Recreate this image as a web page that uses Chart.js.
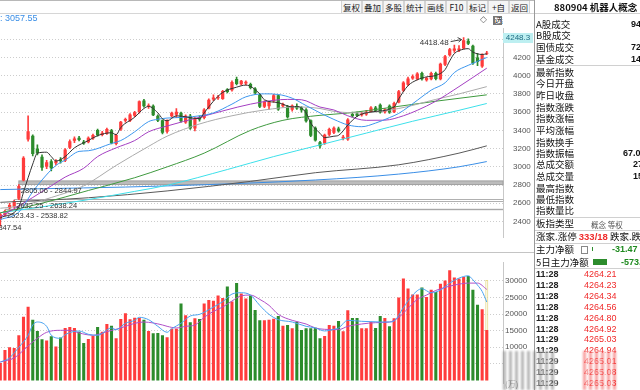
<!DOCTYPE html>
<html lang="zh-CN">
<head>
<meta charset="utf-8">
<title>880904 机器人概念</title>
<script src="https://cdn.jsdelivr.net/npm/chart.js@4.4.1/dist/chart.umd.min.js"></script>
<style>
  html, body { margin: 0; padding: 0; }
  body {
    width: 640px; height: 390px; overflow: hidden; position: relative; background: #fff;
    font-family: "Liberation Sans", "Noto Sans CJK SC", sans-serif; color: #222;
  }
  .abs { position: absolute; white-space: nowrap; }
  #toolbar { position: absolute; left: 0; top: 0; width: 534px; height: 12px; border-top: 1px solid #b8b8b8; border-bottom: 1px solid #d6d6d6; }
  .btn { position: absolute; top: 0; width: 19px; height: 12px; border-left: 1px solid #d4d4d4; border-right: 1px solid #d4d4d4;
         font: 8.5px "Noto Sans CJK SC", sans-serif; line-height: 12px; text-align: center; color: #222; background: #f5f5f5; }
  #priceWrap { position: absolute; left: -2px; top: 14px; }
  #volWrap { position: absolute; left: -2px; top: 256px; }
  #sep { position: absolute; left: 0; top: 252px; width: 534px; height: 1px; background: #c4c4c4; }
  #panel { position: absolute; left: 534px; top: 0; width: 106px; height: 390px; border-left: 1px solid #9a9a9a; overflow: hidden; background: #fff; }
  .pl { position: absolute; left: 1px; font: 9.5px "Noto Sans CJK SC", sans-serif; line-height: 12px; white-space: nowrap; color: #111; }
  .pv { position: absolute; font: bold 9px "Liberation Sans", sans-serif; line-height: 12px; color: #111; white-space: nowrap; }
  .hl { position: absolute; left: 0; width: 106px; height: 1px; background: #d0d0d0; }
  .tt { position: absolute; left: 1px; font: bold 9px "Liberation Sans", sans-serif; line-height: 11px; color: #222; }
  .tp { position: absolute; left: 49px; font: 9px "Liberation Sans", sans-serif; line-height: 11px; color: #f02b2b; }
  .wm { position: absolute; top: 351px; height: 39px; filter: blur(0.8px); }
</style>
</head>
<body>

<div id="toolbar">
  <div class="btn" style="left:341px">复权</div>
  <div class="btn" style="left:362px">叠加</div>
  <div class="btn" style="left:383px">多股</div>
  <div class="btn" style="left:404px">统计</div>
  <div class="btn" style="left:425px">画线</div>
  <div class="btn" style="left:446px">F10</div>
  <div class="btn" style="left:467px">标记</div>
  <div class="btn" style="left:488px">+自选</div>
  <div class="btn" style="left:509px">返回</div>
</div>

<div id="priceWrap"><canvas id="priceChart" width="536" height="238"></canvas></div>
<div id="sep"></div>
<div id="volWrap"><canvas id="volumeChart" width="536" height="134"></canvas></div>

<div class="abs" style="left:0;top:13px;font:9px 'Liberation Sans';color:#3a8ee6">: 3057.55</div>
<div class="abs" style="left:480px;top:14px;font:9px 'DejaVu Sans';color:#666">◇</div>
<div class="abs" style="left:493px;top:16px;width:6px;height:7px;border:1px solid #777;border-left-width:2px"></div>
<div class="abs" style="left:503px;top:33px;width:30px;height:10px;background:#bdeff1;font:8px 'Liberation Sans';line-height:10px;text-align:center;color:#1d6b82">4248.3</div>
<div class="abs" style="left:505px;top:378px;font:8px 'Noto Sans CJK SC';color:#666">(万)</div>

<div id="panel">
  <div class="abs" style="left:19px;top:1px;font:bold 9.5px 'Noto Sans CJK SC';line-height:12px;color:#111">880904 机器人概念</div>
  <div class="hl" style="top:13px"></div>
  <div class="pl" style="top:18px">A股成交</div><div class="pv" style="left:96px;top:18px">94</div>
  <div class="pl" style="top:29px">B股成交</div>
  <div class="pl" style="top:41px">国债成交</div><div class="pv" style="left:96px;top:41px">72</div>
  <div class="pl" style="top:53px">基金成交</div><div class="pv" style="left:96px;top:53px">14</div>
  <div class="hl" style="top:65px"></div>
  <div class="pl" style="top:66px">最新指数</div>
  <div class="pl" style="top:77px">今日开盘</div>
  <div class="pl" style="top:89px">昨日收盘</div>
  <div class="pl" style="top:101px">指数涨跌</div>
  <div class="pl" style="top:112px">指数涨幅</div>
  <div class="pl" style="top:124px">平均涨幅</div>
  <div class="pl" style="top:136px">指数换手</div>
  <div class="pl" style="top:147px">指数振幅</div><div class="pv" style="left:88px;top:147px">67.0</div>
  <div class="pl" style="top:158px">总成交额</div><div class="pv" style="left:98px;top:158px">27</div>
  <div class="pl" style="top:170px">总成交量</div><div class="pv" style="left:98px;top:170px">15</div>
  <div class="pl" style="top:182px">最高指数</div>
  <div class="pl" style="top:193px">最低指数</div>
  <div class="pl" style="top:204px">指数量比</div>
  <div class="hl" style="top:217px"></div>
  <div class="pl" style="top:217px">板指类型</div>
  <div class="abs" style="left:56px;top:219px;font:7.5px 'Noto Sans CJK SC';color:#555">概念 等权</div>
  <div class="hl" style="top:230px"></div>
  <div class="pl" style="top:230px">涨家.涨停 <span style="color:#f02b2b;font-family:'Liberation Sans';font-weight:bold">333/18</span> 跌家.跌停</div>
  <div class="hl" style="top:243px"></div>
  <div class="pl" style="top:243px">主力净额</div>
  <div class="abs" style="left:46px;top:246px;width:5px;height:6px;border:1px solid #888"></div>
  <div class="abs" style="left:57px;top:247px;width:1px;height:4px;background:#2c8c2c"></div>
  <div class="pv" style="left:77px;top:243px;color:#1f8a1f">-31.47</div>
  <div class="pl" style="top:256px">5日主力净额</div>
  <div class="abs" style="left:58px;top:259px;width:14px;height:6px;background:#2c8c2c"></div>
  <div class="pv" style="left:86px;top:256px;color:#1f8a1f">-573.5</div>
  <div class="hl" style="top:268px"></div>
  <div id="ticks"></div>
</div>

<div class="wm" style="left:503px;width:54px;background:repeating-linear-gradient(90deg, rgba(120,120,120,0.55) 0 3px, rgba(255,255,255,0.55) 3px 6px)"></div>
<div class="wm" style="left:583px;width:33px;background:repeating-linear-gradient(90deg, rgba(240,60,60,0.5) 0 3px, rgba(255,255,255,0.6) 3px 6px)"></div>

<script>
// ---- candles ----
const opens  = [2420,2470,2545,2560,2650,2850,3300,3340,3200,3110,3000,3060,3040,3080,3065,3210,3285,3320,3275,3270,
                3310,3405,3350,3362,3400,3250,3410,3505,3505,3560,3600,3727,3660,3670,3560,3510,3385,3555,3570,3592,
                3485,3560,3420,3545,3535,3640,3738,3752,3745,3850,3840,3965,3905,3915,3910,3860,3790,3660,3665,3720,
                3785,3665,3665,3625,3660,3650,3630,3510,3430,3270,3256,3352,3374,3420,3310,3300,3580,3585,3565,3575,
                3600,3650,3680,3600,3670,3600,3705,3835,3900,3970,3960,4030,3950,3960,4030,3960,4120,4225,4275,4280,
                4300,4385,4330,4200,4100,4240];
const highs  = [2495,2523.43,2600,2632.25,2805.06,3112,3560,3350,3240,3130,3070,3080,3080,3100,3200,3295,3330,3335,3290,3330,
                3360,3415,3390,3425,3410,3360,3500,3535,3585,3610,3725,3740,3690,3680,3570,3515,3515,3600,3640,3600,
                3570,3575,3540,3560,3640,3745,3790,3785,3840,3860,3945,3985,3950,3945,3920,3870,3800,3725,3720,3795,
                3790,3700,3675,3680,3690,3660,3640,3515,3440,3280,3360,3425,3440,3435,3345,3530,3600,3600,3600,3620,
                3660,3665,3690,3640,3680,3710,3840,3935,3985,4010,4035,4040,3985,4040,4040,4140,4225,4300,4335,4330,
                4418.48,4405,4335,4245,4240,4268];
const lows   = [2347.54,2460,2538.82,2550,2638.24,2844.97,3280,3120,3130,2960,2980,2955,3020,3040,3055,3200,3265,3285,3245,3262,
                3300,3335,3340,3355,3250,3240,3400,3490,3495,3550,3590,3655,3640,3560,3495,3360,3370,3545,3540,3490,
                3475,3410,3395,3500,3525,3635,3725,3740,3740,3810,3830,3900,3895,3900,3855,3795,3650,3650,3630,3710,
                3620,3655,3535,3610,3630,3600,3490,3330,3280,3205,3245,3340,3365,3380,3295,3290,3545,3550,3555,3565,
                3595,3605,3590,3590,3585,3595,3700,3825,3890,3960,3955,3950,3940,3955,3955,3955,4110,4215,4255,4265,
                4295,4340,4125,4110,4090,4230];
const closes = [2480,2515,2580,2625,2790,3100,3390,3140,3150,2990,3050,2985,3065,3060,3190,3280,3310,3295,3255,3320,
                3350,3345,3375,3415,3258,3350,3495,3525,3575,3600,3720,3665,3675,3565,3505,3375,3510,3592,3605,3500,
                3560,3420,3530,3520,3630,3735,3760,3770,3832,3820,3930,3910,3945,3935,3865,3810,3660,3715,3710,3785,
                3630,3690,3545,3672,3640,3620,3500,3340,3290,3225,3352,3416,3430,3390,3330,3520,3555,3560,3585,3605,
                3650,3615,3595,3630,3595,3700,3830,3925,3970,3995,4025,3960,3975,4030,3965,4130,4215,4290,4300,4300,
                4390,4350,4135,4150,4230,4248.3];
const volumes = [5300,9200,10000,9800,13600,19200,22200,18300,14900,12400,12000,13300,10200,12900,15800,16100,15800,14700,11300,12500,
                 13400,16100,14700,17000,16500,12700,18500,20200,18400,18900,18800,18300,14900,14200,14300,13600,13000,15600,15600,23200,
                 19600,17500,18700,18500,23200,24200,24000,25600,24800,28300,23800,29300,26200,24700,25600,21200,18100,18100,18300,18600,
                 19400,16500,16700,15700,17700,15200,15700,15700,15900,12700,13400,16700,16500,17900,14800,21100,18800,18800,15700,15700,
                 17600,15800,19400,18800,16300,18700,25000,30700,27700,25900,25900,28000,25100,27300,26600,29100,30100,33200,31000,30700,
                 31100,31400,27300,22800,21400,15200];
const projectedVolume = 30200;   // outline on the last (unfinished) session

// ---- moving-average lines, read as points at bar numbers ----
const ma5Bars = [1,5,6,7,8,9,11,12,13,15,17,20,22,25,26,27,30,32,33,35,36,37,39,44,45,47,49,52,54,57,58,61,64,65,67,68,70,71,73,74,76,78,81,86,87,89,91,93,95,97,98,99,101,102,103,105,106];
const ma5Vals = [2440,2560,2720,2880,3030,3150,3160,3112,3063,3112,3208,3288,3342,3374,3352,3432,3544,3640,3663,3592,3528,3505,3560,3528,3592,3720,3816,3874,3897,3801,3736,3704,3657,3663,3592,3480,3368,3320,3336,3345,3458,3554,3602,3657,3746,3890,3955,3987,4003,4067,4163,4243,4291,4297,4259,4233,4240];
const ma10Bars = [1,5,8,10,13,15,18,20,25,27,30,33,35,37,41,44,47,51,54,58,61,64,67,70,73,76,79,82,85,87,91,94,97,99,102,106];
const ma10Vals = [2420,2503,2727,2855,3015,3073,3169,3176,3256,3288,3384,3496,3522,3535,3544,3560,3592,3688,3768,3801,3794,3753,3672,3592,3520,3460,3440,3480,3540,3586,3730,3842,3922,4035,4114,4200];
const ma20Bars = [1,8,12,15,19,22,26,30,33,37,44,55,60,63,66,70,73,76,80,84,88,91,95,100,106];
const ma20Vals = [2450,2663,2791,2887,2984,3112,3208,3288,3384,3448,3544,3688,3730,3740,3736,3656,3624,3560,3510,3512,3560,3620,3720,3880,4083];
const ma30Bars = [1,5,12,19,26,33,37,44,51,58,65,70,73,79,87,95,100,106];
const ma30Vals = [2545,2567,2663,2791,3015,3224,3336,3470,3560,3624,3657,3640,3608,3592,3640,3740,3800,3880];
const ma60Bars = [1,10,20,30,37,45,55,62,70,76,85,95,106];
const ma60Vals = [2495,2600,2740,2880,2999,3150,3400,3510,3565,3590,3650,3720,3790];
const ma120Bars = [1,10,20,30,37,50,60,70,80,90,100,106];
const ma120Vals = [2495,2560,2640,2730,2797,2970,3112,3240,3370,3500,3620,3695];
const ma180Bars = [1,20,37,55,69,87,100,106];
const ma180Vals = [2610,2660,2735,2840,2935,3022,3150,3230];
const ma250Bars = [1,37,69,87,100,106];
const ma250Vals = [2750,2790,2855,2920,3000,3057.55];

const volMa5Bars = [1,3,5,7,8,9,11,12,14,15,18,20,22,25,26,28,30,31,33,35,37,38,40,42,44,47,49,51,53,55,57,59,61,64,67,69,71,73,74,76,79,81,83,85,86,88,90,92,94,96,98,100,102,103,104,105,106];
const volMa5Vals = [5500,6800,10000,13600,16700,17600,16300,13600,12700,13800,14900,13900,13600,15800,15300,17200,18100,19000,18300,16300,14500,15600,17200,19400,19900,22100,23700,26000,26400,25700,22600,19900,18300,17600,16300,15800,14900,15400,15800,18100,17800,17700,17600,17600,17900,21900,25700,27600,26400,27200,29300,30800,31500,30300,28700,26800,23600];
const volMa10Bars = [1,4,7,9,11,14,16,18,21,24,27,30,32,34,36,37,39,41,43,45,47,49,51,53,55,57,59,61,64,67,69,71,74,76,79,82,85,87,89,91,93,95,97,99,102,104,106];
const volMa10Vals = [5600,6800,10400,12700,14500,15100,15100,14300,13600,14700,15800,17200,17600,17300,16700,16300,15800,16300,16700,19000,20800,22100,23900,25500,25700,24400,22600,19900,18100,17000,15800,15400,15300,16300,17000,17400,17600,19000,21700,24400,25700,27100,28000,28700,29300,29300,27400];

// ---- gaps, extremes, ticks ----
const gapBars  = [2, 4, 5];
const gapLows  = [2523.43, 2632.25, 2805.06];
const gapHighs = [2538.82, 2638.24, 2844.97];
const lowBar = 1, lowValue = 2347.54;
const highBar = 101, highValue = 4418.48;
const priceTicks  = [2400, 2600, 2800, 3000, 3200, 3400, 3600, 3800, 4000, 4200, 4400];
const volumeTicks = [5000, 10000, 15000, 20000, 25000, 30000];

const tickTimes  = ['11:28','11:28','11:28','11:28','11:28','11:28','11:29','11:29','11:29','11:29','11:29'];
const tickPrices = ['4264.21','4264.23','4264.34','4264.56','4264.80','4264.92','4265.03','4264.94','4265.01','4265.08','4265.03'];

const SLOTS = 109;  // 106 sessions plus empty room on the right
const slots = Array.from({ length: SLOTS }, (_, i) => String(i + 1));

const upColor = '#ff3c3c';
const downColor = '#2c8c2c';
const candleColors = closes.map((c, i) => (c >= opens[i] ? upColor : downColor));

// tick list in the side panel
const tickBox = document.getElementById('ticks');
tickTimes.forEach((t, i) => {
    const top = 269 + i * 10.9;
    tickBox.insertAdjacentHTML('beforeend',
        `<div class="tt" style="top:${top}px">${t}</div><div class="tp" style="top:${top}px">${tickPrices[i]}</div>`);
});

function maLine(bars, vals, color) {
    const data = new Array(closes.length).fill(null);
    bars.forEach((b, i) => { data[b - 1] = vals[i]; });
    return {
        type: 'line', data, borderColor: color, borderWidth: 1, pointRadius: 0,
        spanGaps: true, cubicInterpolationMode: 'monotone', order: 0
    };
}

const axisFont = { family: 'Liberation Sans', size: 8 };

const priceMarks = {
    id: 'priceMarks',
    beforeDatasetsDraw(chart) {
        const { ctx, chartArea, scales: { x, y } } = chart;
        ctx.save();
        gapLows.forEach((lo, i) => {
            const x0 = x.getPixelForValue(gapBars[i] - 1);
            const top = y.getPixelForValue(gapHighs[i]);
            const h = y.getPixelForValue(lo) - top;
            const w = chartArea.right - x0;
            if (h >= 3) {
                ctx.fillStyle = '#bcbcbc';
                ctx.fillRect(x0, top, w, h);
                ctx.strokeStyle = '#a0a0a0';
                ctx.lineWidth = 1;
                ctx.strokeRect(x0, top, w, h);
            } else if (h >= 1) {
                ctx.fillStyle = '#a8a8a8';
                ctx.fillRect(x0, top, w, h);
            } else {
                ctx.strokeStyle = '#b0b0b0';
                ctx.lineWidth = 1;
                ctx.strokeRect(x0, Math.round(top) - 0.5, w, 2);
            }
        });
        ctx.restore();
    },
    afterDatasetsDraw(chart) {
        const { ctx, scales: { x, y } } = chart;
        ctx.save();
        ctx.fillStyle = '#333';
        ctx.textBaseline = 'middle';
        ctx.font = '7.5px "Liberation Sans"';
        ctx.textAlign = 'left';
        gapLows.forEach((lo, i) => {
            const x0 = x.getPixelForValue(gapBars[i] - 1);
            const bot = y.getPixelForValue(lo);
            ctx.fillText(lo.toFixed(2) + ' - ' + gapHighs[i].toFixed(2), x0 + 2, bot + 6);
        });
        // lowest point
        ctx.textAlign = 'right';
        ctx.fillText(lowValue.toFixed(2), x.getPixelForValue(lowBar - 1) + 21, y.getPixelForValue(lowValue) + 2);
        // highest point with arrow
        const hx = x.getPixelForValue(highBar - 1);
        const hy = y.getPixelForValue(highValue);
        ctx.font = '8px "Liberation Sans"';
        ctx.fillText(highValue.toFixed(2), hx - 15, hy + 5);
        ctx.strokeStyle = '#444';
        ctx.lineWidth = 1;
        ctx.beginPath();
        ctx.moveTo(hx - 13, hy + 4);
        ctx.lineTo(hx - 2, hy + 2);
        ctx.moveTo(hx - 2, hy + 2);
        ctx.lineTo(hx - 6, hy + 0);
        ctx.moveTo(hx - 2, hy + 2);
        ctx.lineTo(hx - 5, hy + 4.5);
        ctx.stroke();
        ctx.restore();
    }
};

new Chart(document.getElementById('priceChart'), {
    type: 'bar',
    data: {
        labels: slots,
        datasets: [
            maLine(ma5Bars, ma5Vals, '#333333'),
            maLine(ma10Bars, ma10Vals, '#3d97ee'),
            maLine(ma20Bars, ma20Vals, '#a43fc2'),
            maLine(ma30Bars, ma30Vals, '#ababab'),
            maLine(ma60Bars, ma60Vals, '#3f9a3f'),
            maLine(ma120Bars, ma120Vals, '#3de0ea'),
            maLine(ma180Bars, ma180Vals, '#5a5a5a'),
            maLine(ma250Bars, ma250Vals, '#3a8ee6'),
            {
                data: opens.map((o, i) => [o, closes[i]]),
                backgroundColor: candleColors,
                barPercentage: 0.7, categoryPercentage: 1,
                grouped: false, minBarLength: 1, order: 1
            },
            {
                data: lows.map((l, i) => [l, highs[i]]),
                backgroundColor: candleColors,
                barThickness: 1, grouped: false, order: 2
            }
        ]
    },
    options: {
        responsive: false,
        animation: false,
        events: [],
        layout: { padding: 0 },
        plugins: { legend: { display: false }, tooltip: { enabled: false } },
        scales: {
            x: { display: false },
            y: {
                position: 'right',
                min: 2227, max: 4515,
                afterBuildTicks: axis => { axis.ticks = priceTicks.map(v => ({ value: v })); },
                afterFit: axis => { axis.width = 31; },
                grid: { color: '#cdcdcd', drawTicks: false },
                border: { display: true, color: '#c8c8c8', dash: [1, 2] },
                ticks: { padding: 10, color: '#555', font: axisFont, callback: v => String(v) }
            }
        }
    },
    plugins: [priceMarks]
});

new Chart(document.getElementById('volumeChart'), {
    type: 'bar',
    data: {
        labels: slots,
        datasets: [
            maLine(volMa5Bars, volMa5Vals, '#4aa3f0'),
            maLine(volMa10Bars, volMa10Vals, '#b050c8'),
            {
                data: volumes,
                backgroundColor: candleColors,
                barPercentage: 0.66, categoryPercentage: 1,
                grouped: false, order: 2
            },
            {
                data: volumes.map((v, i) => (i === volumes.length - 1 ? projectedVolume : null)),
                backgroundColor: 'rgba(255,255,255,0)',
                borderColor: '#e6da8a', borderWidth: 1,
                barPercentage: 0.66, categoryPercentage: 1,
                grouped: false, order: 3
            }
        ]
    },
    options: {
        responsive: false,
        animation: false,
        events: [],
        layout: { padding: 0 },
        plugins: { legend: { display: false }, tooltip: { enabled: false } },
        scales: {
            x: { display: false },
            y: {
                position: 'right',
                min: -811, max: 35405,
                afterBuildTicks: axis => { axis.ticks = volumeTicks.map(v => ({ value: v })); },
                afterFit: axis => { axis.width = 31; },
                grid: { color: '#cdcdcd', drawTicks: false },
                border: { display: true, color: '#c8c8c8', dash: [1, 2] },
                ticks: { padding: 2, color: '#555', font: axisFont, callback: v => (v === 5000 ? '' : String(v)) }
            }
        }
    }
});
</script>
</body>
</html>
